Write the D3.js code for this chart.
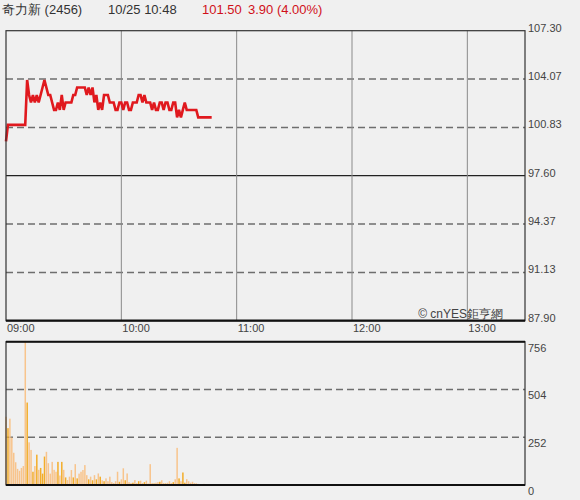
<!DOCTYPE html>
<html><head><meta charset="utf-8">
<script src="https://cdn.jsdelivr.net/npm/d3@7"></script>
<style>
html,body{margin:0;padding:0;background:#f0f0f0;}
svg{display:block;font-family:"Liberation Sans",Arial,sans-serif;}
</style></head>
<body>
<svg id="c" width="580" height="500"></svg>
<script>
// ---- data ----
const stockName = "奇力新";
const stockCode = "(2456)";
const stampText = "10/25 10:48";
const lastPrice = "101.50";
const changeText = "3.90 (4.00%)";
const prevClose = 97.60;

const hourLabels = ["09:00", "10:00", "11:00", "12:00", "13:00"];
const hourMinutes = [0, 60, 120, 180, 240];
const priceTicks = [107.30, 104.07, 100.83, 97.60, 94.37, 91.13, 87.90];
const volumeTicks = [756, 504, 252, 0];

// price per minute from 09:00
const prices = [
  99.9, 101.0, 101.0, 101.0, 101.0, 101.0, 101.0, 101.0, 101.0, 101.0,
  101.0, 104.0, 103.0, 102.5, 103.0, 102.5, 103.0, 102.5, 103.0, 103.5,
  104.0, 103.5, 103.0, 103.0, 102.5, 102.0, 102.0, 102.5, 102.0, 103.0,
  102.0, 102.5, 102.5, 102.5, 102.5, 103.0, 103.0, 103.5, 103.5, 103.5,
  103.5, 103.5, 103.0, 103.5, 103.0, 103.5, 102.5, 103.0, 102.0, 102.5,
  102.0, 103.0, 103.0, 103.0, 102.5, 102.5, 102.5, 102.0, 102.0, 102.5,
  102.5, 102.0, 102.5, 102.5, 102.0, 102.0, 102.5, 102.5, 102.5, 103.0,
  103.0, 102.5, 103.0, 102.5, 102.5, 102.5, 102.0, 102.5, 102.0, 102.0,
  102.5, 102.5, 102.0, 102.5, 102.5, 102.0, 102.0, 102.5, 102.5, 101.5,
  102.0, 101.5, 102.0, 102.5, 102.0, 102.0, 102.0, 102.0, 102.0, 102.0,
  101.5, 101.5, 101.5, 101.5, 101.5, 101.5, 101.5, 101.5
];
// volume per minute
const volumes = [
  360, 300, 350, 250, 170, 120, 85, 75, 90, 100,
  760, 435, 225, 185, 70, 100, 160, 80, 90, 60,
  150, 175, 115, 60, 122, 80, 70, 122, 50, 122,
  80, 40, 26, 44, 79, 40, 110, 35, 60, 70,
  79, 105, 52, 30, 44, 25, 52, 30, 61, 44,
  25, 20, 35, 20, 44, 15, 10, 20, 70, 17,
  30, 88, 25, 61, 15, 10, 12, 26, 10, 20,
  23, 10, 15, 23, 8, 110, 10, 8, 12, 15,
  17, 25, 10, 8, 12, 20, 10, 15, 30, 196,
  35, 20, 66, 12, 31, 20, 12, 17, 10, 9,
  6, 5, 4, 6, 3, 5, 4, 3
];

// ---- chart ----
const svg = d3.select("#c");
const L = 6, R = 525;
const pTop = 30.7, pBot = 320.7;
const vTop = 341.7, vBot = 485;

const x = d3.scaleLinear().domain([0, 270]).range([L, R]);
const yP = d3.scaleLinear().domain([87.90, 107.30]).range([pBot, pTop]);
const yV = d3.scaleLinear().domain([0, 756]).range([vBot, vTop]);

svg.append("rect").attr("width", 580).attr("height", 500).attr("fill", "#f0f0f0");

// header
svg.append("text").attr("x", 2).attr("y", 14).attr("font-size", 13).attr("fill", "#333").text(stockName + " " + stockCode);
svg.append("text").attr("x", 108).attr("y", 14).attr("font-size", 13).attr("fill", "#333").text(stampText);
svg.append("text").attr("x", 202).attr("y", 14).attr("font-size", 13).attr("fill", "#d0101a").text(lastPrice);
svg.append("text").attr("x", 248).attr("y", 14).attr("font-size", 13).attr("fill", "#d0101a").text(changeText);

// price panel grid
const gP = svg.append("g");
gP.selectAll("line.h").data(priceTicks.slice(1, -1)).join("line")
  .attr("x1", L).attr("x2", R)
  .attr("y1", d => yP(d)).attr("y2", d => yP(d))
  .attr("stroke", d => Math.abs(d - prevClose) < 1e-6 ? "#222" : "#6e6e6e")
  .attr("stroke-width", d => Math.abs(d - prevClose) < 1e-6 ? 1.3 : 1.5)
  .attr("stroke-dasharray", d => Math.abs(d - prevClose) < 1e-6 ? null : "7,4");
gP.selectAll("line.v").data(hourMinutes.slice(1)).join("line")
  .attr("x1", d => x(d)).attr("x2", d => x(d))
  .attr("y1", pTop).attr("y2", pBot)
  .attr("stroke", "#8a8a8a").attr("stroke-width", 1);

// copyright
svg.append("text").attr("x", 503).attr("y", 318).attr("text-anchor", "end")
  .attr("font-size", 12).attr("fill", "#444").text("© cnYES鉅亨網");

// price line
const line = d3.line().x((d, i) => x(i)).y(d => yP(d));
svg.append("path").datum(prices).attr("d", line)
  .attr("fill", "none").attr("stroke", "#e0191e").attr("stroke-width", 2.6)
  .attr("stroke-linejoin", "miter");

// price frame
svg.append("rect").attr("x", L).attr("y", pTop).attr("width", R - L).attr("height", pBot - pTop)
  .attr("fill", "none").attr("stroke", "#333").attr("stroke-width", 1.2);
svg.append("line").attr("x1", L).attr("x2", R).attr("y1", pBot).attr("y2", pBot)
  .attr("stroke", "#111").attr("stroke-width", 2.2);

// price labels
svg.selectAll("text.pt").data(priceTicks).join("text")
  .attr("x", 528).attr("y", d => yP(d) + 1)
  .attr("font-size", 11).attr("fill", "#444").text(d => d.toFixed(2));

// time labels
svg.selectAll("text.tl").data(hourMinutes).join("text")
  .attr("x", d => x(d) + 1).attr("y", 332)
  .attr("font-size", 11).attr("fill", "#444").text((d, i) => hourLabels[i]);

// volume panel grid
svg.selectAll("line.vh").data(volumeTicks.slice(1, -1)).join("line")
  .attr("x1", L).attr("x2", R)
  .attr("y1", d => yV(d)).attr("y2", d => yV(d))
  .attr("stroke", "#6e6e6e").attr("stroke-width", 1.5).attr("stroke-dasharray", "7,4");

// volume bars
svg.selectAll("rect.vb").data(volumes).join("rect")
  .attr("x", (d, i) => x(i) - 0.7).attr("width", 1.5)
  .attr("y", d => Math.max(yV(d), vTop - 4)).attr("height", d => vBot - Math.max(yV(d), vTop - 4))
  .attr("fill", (d, i) => (i > 0 && prices[i] > prices[i - 1]) ? "#f3ad2a" : "#f8c48c");

// volume frame
svg.append("rect").attr("x", L).attr("y", vTop).attr("width", R - L).attr("height", vBot - vTop)
  .attr("fill", "none").attr("stroke", "#333").attr("stroke-width", 1.2);
svg.append("line").attr("x1", L).attr("x2", R).attr("y1", vTop).attr("y2", vTop)
  .attr("stroke", "#111").attr("stroke-width", 2);
svg.append("line").attr("x1", L).attr("x2", R).attr("y1", vBot).attr("y2", vBot)
  .attr("stroke", "#111").attr("stroke-width", 2);

// volume labels
svg.selectAll("text.vt").data(volumeTicks).join("text")
  .attr("x", 528).attr("y", d => yV(d) + 10)
  .attr("font-size", 11).attr("fill", "#444").text(d => d);
</script>
</body></html>
